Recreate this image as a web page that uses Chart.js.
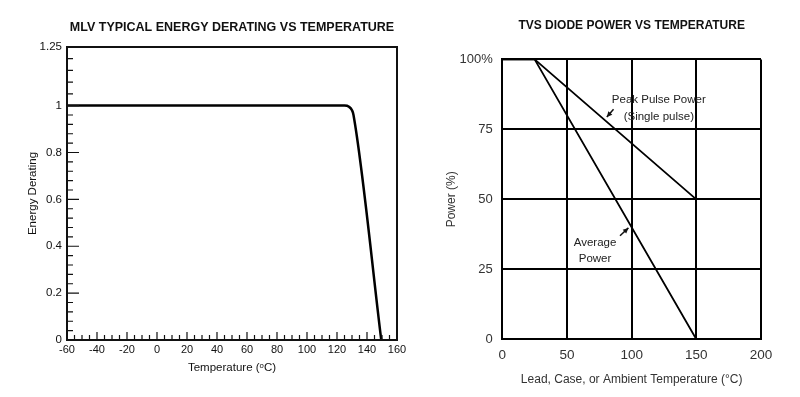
<!DOCTYPE html>
<html>
<head>
<meta charset="utf-8">
<script src="https://cdn.jsdelivr.net/npm/chart.js@4.4.0/dist/chart.umd.min.js"></script>
<style>
  body { margin: 0; background: #fff; }
  #wrap { position: relative; width: 800px; height: 397px; }
  #mlv { position: absolute; left: 0; top: 0; }
  #tvs { position: absolute; left: 420px; top: 0; }
</style>
</head>
<body>
<div id="wrap">
  <canvas id="mlv" width="410" height="397"></canvas>
  <canvas id="tvs" width="380" height="397"></canvas>
</div>
<script>
// left chart: MLV energy derating
const mlvTemp = [-60, 125, 128, 130, 131, 149.5];
const mlvDerating = [1, 1, 0.995, 0.98, 0.96, 0];
const mlvYTicks = [0, 0.2, 0.4, 0.6, 0.8, 1, 1.25];

// right chart: TVS diode power
const tvsTemp = [0, 25, 150];
const peakPulse = [100, 100, 50];
const avgPower = [100, 100, 0];
const tvsYLabels = ['0', '25', '50', '75', '100%'];

const FONT = "'Liberation Sans', Arial, sans-serif";
Chart.defaults.font.family = FONT;
Chart.defaults.color = '#222';

function pts(xs, ys) {
    return xs.map((x, i) => ({x: x, y: ys[i]}));
}

// inward tick marks + frame for the MLV chart
const mlvFrame = {
    id: 'mlvFrame',
    afterDatasetsDraw(chart) {
        const {ctx, chartArea: a, scales: {x, y}} = chart;
        ctx.save();
        ctx.strokeStyle = '#111';
        ctx.lineWidth = 1.2;
        ctx.beginPath();
        for (let v = -60; v <= 160; v += 5) {
            const px = x.getPixelForValue(v);
            const len = v % 20 === 0 ? 8 : 5;
            ctx.moveTo(px, a.bottom);
            ctx.lineTo(px, a.bottom - len);
        }
        for (let i = 0; i <= 25; i++) {
            const py = y.getPixelForValue(i * 0.04);
            const len = i % 5 === 0 ? 12 : 6;
            ctx.moveTo(a.left, py);
            ctx.lineTo(a.left + len, py);
        }
        for (let i = 1; i <= 4; i++) {
            const py = y.getPixelForValue(1 + i * 0.05);
            ctx.moveTo(a.left, py);
            ctx.lineTo(a.left + 6, py);
        }
        ctx.stroke();
        ctx.lineWidth = 2;
        ctx.strokeRect(a.left, a.top, a.right - a.left, a.bottom - a.top);
        ctx.restore();
    }
};

new Chart(document.getElementById('mlv'), {
    type: 'line',
    data: {
        datasets: [{
            data: pts(mlvTemp, mlvDerating),
            borderColor: '#000',
            borderWidth: 2.5,
            pointRadius: 0,
            cubicInterpolationMode: 'monotone'
        }]
    },
    options: {
        responsive: false,
        animation: false,
        devicePixelRatio: 1,
        layout: {padding: {left: 0, right: 13, top: 0, bottom: 0}},
        plugins: {
            legend: {display: false},
            tooltip: {enabled: false},
            title: {
                display: true,
                fullSize: false,
                text: 'MLV TYPICAL ENERGY DERATING VS TEMPERATURE',
                color: '#111',
                font: {size: 12.5, weight: 'bold'},
                padding: {top: 20, bottom: 12}
            }
        },
        scales: {
            x: {
                type: 'linear',
                min: -60,
                max: 160,
                afterFit: s => { s.height = 57; },
                grid: {display: false, drawTicks: false},
                border: {display: false},
                ticks: {stepSize: 20, padding: 3.5, color: '#111', font: {size: 11}},
                title: {
                    display: true,
                    text: 'Temperature (ᵒC)',
                    color: '#111',
                    font: {size: 11.5},
                    padding: {top: 0, bottom: 22}
                }
            },
            y: {
                min: 0,
                max: 1.25,
                afterFit: s => { s.width = 67; },
                afterBuildTicks: s => { s.ticks = mlvYTicks.map(v => ({value: v})); },
                grid: {display: false, drawTicks: false},
                border: {display: false},
                ticks: {padding: 5, color: '#111', font: {size: 11.5}, callback: v => String(v)},
                title: {
                    display: true,
                    text: 'Energy Derating',
                    color: '#111',
                    font: {size: 11.5},
                    padding: {top: 26, bottom: 0}
                }
            }
        }
    },
    plugins: [mlvFrame]
});

// callout labels and arrows for the TVS chart
function arrow(ctx, x0, y0, x1, y1) {
    const ang = Math.atan2(y1 - y0, x1 - x0);
    ctx.beginPath();
    ctx.moveTo(x0, y0);
    ctx.lineTo(x1, y1);
    ctx.stroke();
    ctx.beginPath();
    ctx.moveTo(x1, y1);
    ctx.lineTo(x1 - 6 * Math.cos(ang - 0.45), y1 - 6 * Math.sin(ang - 0.45));
    ctx.lineTo(x1 - 6 * Math.cos(ang + 0.45), y1 - 6 * Math.sin(ang + 0.45));
    ctx.closePath();
    ctx.fill();
}

const tvsNotes = {
    id: 'tvsNotes',
    afterDatasetsDraw(chart) {
        const {ctx, scales: {x, y}} = chart;
        ctx.save();
        ctx.fillStyle = '#222';
        ctx.strokeStyle = '#111';
        ctx.lineWidth = 1.5;
        ctx.font = '11.5px ' + FONT;
        ctx.textAlign = 'center';
        ctx.textBaseline = 'middle';
        ctx.fillText('Peak Pulse Power', x.getPixelForValue(121), y.getPixelForValue(85.5));
        ctx.fillText('(Single pulse)', x.getPixelForValue(121), y.getPixelForValue(79.5));
        ctx.fillText('Average', x.getPixelForValue(71.7), y.getPixelForValue(34.3));
        ctx.fillText('Power', x.getPixelForValue(71.7), y.getPixelForValue(28.9));
        ctx.fillStyle = '#111';
        arrow(ctx, x.getPixelForValue(86), y.getPixelForValue(82.2), x.getPixelForValue(80.8), y.getPixelForValue(79.4));
        arrow(ctx, x.getPixelForValue(91), y.getPixelForValue(37), x.getPixelForValue(97.5), y.getPixelForValue(39.8));
        ctx.restore();
    }
};

new Chart(document.getElementById('tvs'), {
    type: 'line',
    data: {
        datasets: [
            {
                label: 'Peak Pulse Power',
                data: pts(tvsTemp, peakPulse),
                borderColor: '#000',
                borderWidth: 1.8,
                pointRadius: 0
            },
            {
                label: 'Average Power',
                data: pts(tvsTemp, avgPower),
                borderColor: '#000',
                borderWidth: 1.8,
                pointRadius: 0
            }
        ]
    },
    options: {
        responsive: false,
        animation: false,
        devicePixelRatio: 1,
        layout: {padding: {left: 0, right: 39, top: 0, bottom: 0}},
        plugins: {
            legend: {display: false},
            tooltip: {enabled: false},
            title: {
                display: true,
                fullSize: false,
                text: 'TVS DIODE POWER VS TEMPERATURE',
                color: '#111',
                font: {size: 12, weight: 'bold'},
                padding: {top: 18, bottom: 27}
            }
        },
        scales: {
            x: {
                type: 'linear',
                min: 0,
                max: 200,
                afterFit: s => { s.height = 57.7; },
                grid: {color: '#000', lineWidth: 2, drawTicks: false},
                border: {color: '#000', width: 2},
                ticks: {stepSize: 50, padding: 7.5, color: '#333', font: {size: 13.5}},
                title: {
                    display: true,
                    text: 'Lead, Case, or Ambient Temperature (°C)',
                    color: '#333',
                    font: {size: 12},
                    padding: {top: 0, bottom: 10}
                }
            },
            y: {
                min: 0,
                max: 100,
                afterFit: s => { s.width = 82.3; },
                grid: {color: '#000', lineWidth: 2, drawTicks: false},
                border: {color: '#000', width: 2},
                ticks: {
                    stepSize: 25,
                    padding: 9.5,
                    color: '#333',
                    font: {size: 13},
                    callback: (v, i) => tvsYLabels[i]
                },
                title: {
                    display: true,
                    text: 'Power (%)',
                    color: '#333',
                    font: {size: 12},
                    padding: {top: 24.5, bottom: 0}
                }
            }
        }
    },
    plugins: [tvsNotes]
});
</script>
</body>
</html>
